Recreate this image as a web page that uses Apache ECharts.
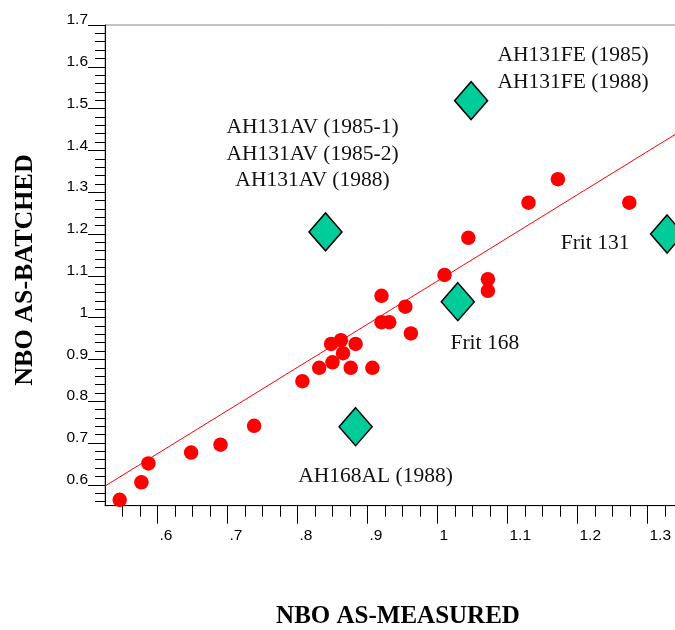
<!DOCTYPE html>
<html>
<head>
<meta charset="utf-8">
<script src="https://cdn.jsdelivr.net/npm/echarts@6/dist/echarts.min.js"></script>
<style>
html,body{margin:0;padding:0;background:#fff;}
#chart{width:675px;height:630px;}
</style>
</head>
<body>
<div id="chart"></div>
<script>
// ---- data ----
const batchPoints = [
  [0.546, 0.564], [0.577, 0.606], [0.587, 0.651], [0.648, 0.677], [0.690, 0.696],
  [0.738, 0.741], [0.807, 0.848], [0.831, 0.880], [0.850, 0.893], [0.848, 0.937],
  [0.862, 0.946], [0.865, 0.915], [0.876, 0.880], [0.883, 0.937], [0.907, 0.880],
  [0.920, 0.989], [0.931, 0.989], [0.920, 1.052], [0.954, 1.026], [0.962, 0.962],
  [1.010, 1.102], [1.044, 1.191], [1.072, 1.092], [1.072, 1.064], [1.130, 1.275],
  [1.172, 1.331], [1.274, 1.275]
];
const glassNames = [
  'AH131FE (1985)\nAH131FE (1988)',
  'AH131AV (1985-1)\nAH131AV (1985-2)\nAH131AV (1988)',
  'Frit 131',
  'Frit 168',
  'AH168AL (1988)'
];
const glassX = [1.048, 0.840, 1.328, 1.029, 0.883];
const glassY = [1.519, 1.205, 1.200, 1.038, 0.739];
const fitLineX = [0.525, 1.35];
const fitLineY = [0.597, 1.449];

const xMajorTicks = [0.6, 0.7, 0.8, 0.9, 1.0, 1.1, 1.2, 1.3];
const xTickLabels = ['.6', '.7', '.8', '.9', '1', '1.1', '1.2', '1.3'];
const yMajorTicks = [0.6, 0.7, 0.8, 0.9, 1.0, 1.1, 1.2, 1.3, 1.4, 1.5, 1.6, 1.7];
const yTickLabels = ['0.6', '0.7', '0.8', '0.9', '1', '1.1', '1.2', '1.3', '1.4', '1.5', '1.6', '1.7'];
const xTitle = 'NBO AS-MEASURED';
const yTitle = 'NBO AS-BATCHED';

// ---- layout / style ----
const labelOffsets = [[102, -32], [-13, -78], [-72, 9], [27, 42], [20, 50]];
const X_MIN = 0.525, X_MAX = 1.35, Y_MIN = 0.55, Y_MAX = 1.7;

function minorTicks(start, step, count, majors) {
  const out = [];
  for (let i = 0; i <= count; i++) {
    const v = +(start + i * step).toFixed(4);
    if (!majors.some(m => Math.abs(m - v) < 1e-6)) out.push(v);
  }
  return out;
}
const xMinorTicks = minorTicks(0.55, 0.025, 32, xMajorTicks);
const yMinorTicks = minorTicks(0.56, 0.02, 56, yMajorTicks);

function fmt(ticks, labels) {
  return function (v) {
    const i = ticks.findIndex(t => Math.abs(t - v) < 1e-6);
    return i >= 0 ? labels[i] : '';
  };
}

const serif = '"Liberation Serif", "Times New Roman", serif';
const sans = '"Liberation Sans", Arial, sans-serif';

const chart = echarts.init(document.getElementById('chart'), null, {renderer: 'canvas'});
chart.setOption({
  animation: false,
  backgroundColor: '#ffffff',
  grid: {
    left: 105, top: 25, right: -7.5, bottom: 124.3,
    show: true, borderColor: '#888888', borderWidth: 1,
    outerBoundsMode: 'none', containLabel: false
  },
  xAxis: [{
    type: 'value', min: X_MIN, max: X_MAX, position: 'bottom',
    axisLine: {show: true, onZero: false, lineStyle: {color: '#000', width: 1}},
    axisTick: {show: true, customValues: xMajorTicks, length: 18, lineStyle: {color: '#000', width: 1}},
    axisLabel: {show: true, customValues: xMajorTicks, formatter: fmt(xMajorTicks, xTickLabels),
      color: '#000', fontFamily: sans, fontSize: 15.5, align: 'left', margin: 22, lineHeight: 16,
      padding: [0, 0, 0, 2]},
    splitLine: {show: false}
  }, {
    type: 'value', min: X_MIN, max: X_MAX, position: 'bottom', gridIndex: 0,
    axisLine: {show: false},
    axisTick: {show: true, customValues: xMinorTicks, length: 11, lineStyle: {color: '#000', width: 1}},
    axisLabel: {show: false},
    splitLine: {show: false}
  }],
  yAxis: [{
    type: 'value', min: Y_MIN, max: Y_MAX, position: 'left',
    axisLine: {show: true, onZero: false, lineStyle: {color: '#000', width: 1}},
    axisTick: {show: true, customValues: yMajorTicks, length: 17, lineStyle: {color: '#000', width: 1}},
    axisLabel: {show: true, customValues: yMajorTicks, formatter: fmt(yMajorTicks, yTickLabels),
      color: '#000', fontFamily: sans, fontSize: 15.5, align: 'right', verticalAlign: 'bottom',
      lineHeight: 10, margin: 17},
    splitLine: {show: false}
  }, {
    type: 'value', min: Y_MIN, max: Y_MAX, position: 'left', gridIndex: 0,
    axisLine: {show: false},
    axisTick: {show: true, customValues: yMinorTicks, length: 10, lineStyle: {color: '#000', width: 1}},
    axisLabel: {show: false},
    splitLine: {show: false}
  }],
  series: [{
    type: 'line',
    xAxisIndex: 0, yAxisIndex: 0,
    data: fitLineX.map((x, i) => [x, fitLineY[i]]),
    showSymbol: false, symbol: 'none',
    lineStyle: {color: '#ff0000', width: 1},
    z: 2, silent: true
  }, {
    type: 'scatter',
    xAxisIndex: 0, yAxisIndex: 0,
    data: batchPoints,
    symbol: 'circle', symbolSize: 14.5,
    itemStyle: {color: '#ff0000', opacity: 1},
    z: 3
  }, {
    type: 'scatter',
    xAxisIndex: 0, yAxisIndex: 0,
    clip: false,
    data: glassNames.map((n, i) => ({value: [glassX[i], glassY[i]], name: n})),
    symbol: 'diamond', symbolSize: [33, 38],
    itemStyle: {color: '#00cc99', borderColor: '#000', borderWidth: 1.5, opacity: 1},
    label: {
      show: true, position: 'inside', formatter: '{b}',
      color: '#111', fontFamily: serif, fontSize: 21.5, lineHeight: 26.5,
      align: 'center', verticalAlign: 'middle'
    },
    labelLayout: function (p) {
      const o = labelOffsets[p.dataIndex];
      return {dx: o[0], dy: o[1], hideOverlap: false};
    },
    z: 4
  }],
  graphic: [{
    type: 'text', x: 398, y: 617,
    style: {text: xTitle, font: 'bold 25px ' + serif, fill: '#000', textAlign: 'center', textVerticalAlign: 'middle'}
  }, {
    type: 'text', x: 25, y: 270, rotation: Math.PI / 2,
    style: {text: yTitle, font: 'bold 26px ' + serif, fill: '#000', textAlign: 'center', textVerticalAlign: 'middle'}
  }]
});
</script>
</body>
</html>
